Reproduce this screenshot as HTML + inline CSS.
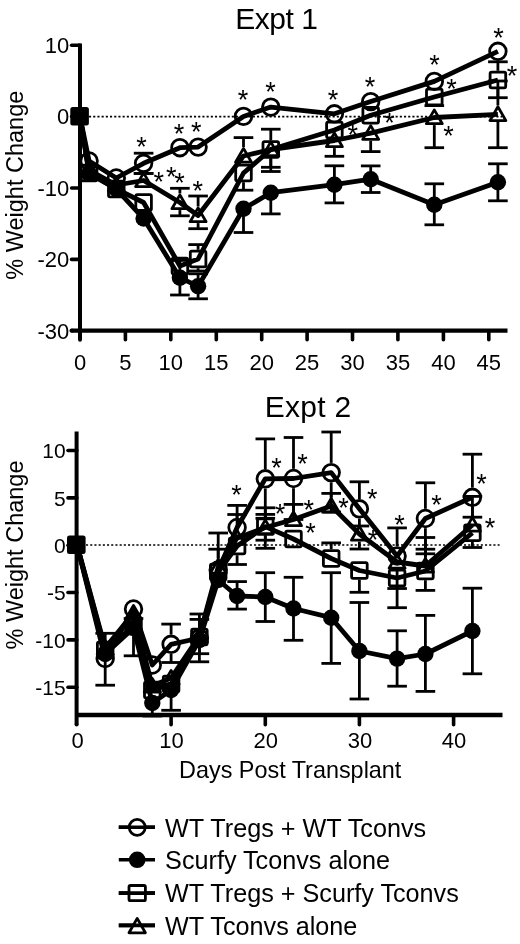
<!DOCTYPE html>
<html><head><meta charset="utf-8"><style>
html,body{margin:0;padding:0;background:#fff;}
body{width:520px;height:944px;overflow:hidden;}
svg{display:block;font-family:"Liberation Sans", sans-serif;will-change:transform;}
</style></head><body>
<svg width="520" height="944" viewBox="0 0 520 944">
<rect width="520" height="944" fill="#fff"/>
<g stroke="#000" fill="none" stroke-linecap="butt">
<line x1="80" y1="43.4" x2="80" y2="339.7" stroke-width="4" stroke-linecap="butt"/>
<line x1="80" y1="339.7" x2="80" y2="339.8" stroke-width="4" stroke-linecap="round"/>
<line x1="71.6" y1="330.7" x2="507.5" y2="330.7" stroke-width="4.3"/>
<line x1="71.6" y1="330.7" x2="71.7" y2="330.7" stroke-width="4.3" stroke-linecap="round"/>
<line x1="71.6" y1="45.2" x2="80" y2="45.2" stroke-width="3.6" stroke-linecap="round"/>
<line x1="71.6" y1="116.6" x2="80" y2="116.6" stroke-width="3.6" stroke-linecap="round"/>
<line x1="71.6" y1="188.0" x2="80" y2="188.0" stroke-width="3.6" stroke-linecap="round"/>
<line x1="71.6" y1="259.4" x2="80" y2="259.4" stroke-width="3.6" stroke-linecap="round"/>
<line x1="125.4" y1="331" x2="125.4" y2="339.7" stroke-width="3.6" stroke-linecap="round"/>
<line x1="170.8" y1="331" x2="170.8" y2="339.7" stroke-width="3.6" stroke-linecap="round"/>
<line x1="216.3" y1="331" x2="216.3" y2="339.7" stroke-width="3.6" stroke-linecap="round"/>
<line x1="261.7" y1="331" x2="261.7" y2="339.7" stroke-width="3.6" stroke-linecap="round"/>
<line x1="307.1" y1="331" x2="307.1" y2="339.7" stroke-width="3.6" stroke-linecap="round"/>
<line x1="352.5" y1="331" x2="352.5" y2="339.7" stroke-width="3.6" stroke-linecap="round"/>
<line x1="397.9" y1="331" x2="397.9" y2="339.7" stroke-width="3.6" stroke-linecap="round"/>
<line x1="443.4" y1="331" x2="443.4" y2="339.7" stroke-width="3.6" stroke-linecap="round"/>
<line x1="488.8" y1="331" x2="488.8" y2="339.7" stroke-width="3.6" stroke-linecap="round"/>
<line x1="89" y1="116.6" x2="502" y2="116.6" stroke-width="1.7" stroke-dasharray="2.1 2.1"/>
<line x1="76.6" y1="431.5" x2="76.6" y2="724.5" stroke-width="4"/>
<line x1="76.6" y1="724.5" x2="76.6" y2="724.6" stroke-width="4" stroke-linecap="round"/>
<line x1="76.6" y1="715" x2="502.5" y2="715" stroke-width="4.3"/>
<line x1="68" y1="450.5" x2="76.8" y2="450.5" stroke-width="3.6" stroke-linecap="round"/>
<line x1="68" y1="497.9" x2="76.8" y2="497.9" stroke-width="3.6" stroke-linecap="round"/>
<line x1="68" y1="545.2" x2="76.8" y2="545.2" stroke-width="3.6" stroke-linecap="round"/>
<line x1="68" y1="592.5" x2="76.8" y2="592.5" stroke-width="3.6" stroke-linecap="round"/>
<line x1="68" y1="639.9" x2="76.8" y2="639.9" stroke-width="3.6" stroke-linecap="round"/>
<line x1="68" y1="687.2" x2="76.8" y2="687.2" stroke-width="3.6" stroke-linecap="round"/>
<line x1="171.1" y1="715" x2="171.1" y2="724.7" stroke-width="3.6" stroke-linecap="round"/>
<line x1="265.3" y1="715" x2="265.3" y2="724.7" stroke-width="3.6" stroke-linecap="round"/>
<line x1="359.4" y1="715" x2="359.4" y2="724.7" stroke-width="3.6" stroke-linecap="round"/>
<line x1="453.6" y1="715" x2="453.6" y2="724.7" stroke-width="3.6" stroke-linecap="round"/>
<line x1="86" y1="545" x2="499.6" y2="545" stroke-width="1.7" stroke-dasharray="2.1 2.1"/>
</g>
<g stroke="#000" fill="none" stroke-linecap="butt">
<line x1="143.6" y1="153.6" x2="143.6" y2="153.2" stroke-width="2.8" />
<line x1="133.8" y1="153.2" x2="153.4" y2="153.2" stroke-width="2.8" />
<line x1="143.6" y1="173.0" x2="143.6" y2="173.4" stroke-width="2.8" />
<line x1="133.8" y1="173.4" x2="153.4" y2="173.4" stroke-width="2.8" />
<line x1="179.9" y1="277.7" x2="179.9" y2="260.4" stroke-width="2.8" />
<line x1="170.1" y1="260.4" x2="189.7" y2="260.4" stroke-width="2.8" />
<line x1="179.9" y1="277.7" x2="179.9" y2="295.0" stroke-width="2.8" />
<line x1="170.1" y1="295.0" x2="189.7" y2="295.0" stroke-width="2.8" />
<line x1="198.1" y1="286.3" x2="198.1" y2="273.8" stroke-width="2.8" />
<line x1="188.3" y1="273.8" x2="207.9" y2="273.8" stroke-width="2.8" />
<line x1="198.1" y1="286.3" x2="198.1" y2="298.8" stroke-width="2.8" />
<line x1="188.3" y1="298.8" x2="207.9" y2="298.8" stroke-width="2.8" />
<line x1="243.5" y1="208.8" x2="243.5" y2="232.5" stroke-width="2.8" />
<line x1="233.7" y1="232.5" x2="253.3" y2="232.5" stroke-width="2.8" />
<line x1="270.8" y1="192.7" x2="270.8" y2="213.9" stroke-width="2.8" />
<line x1="261.0" y1="213.9" x2="280.6" y2="213.9" stroke-width="2.8" />
<line x1="334.4" y1="184.7" x2="334.4" y2="165.8" stroke-width="2.8" />
<line x1="324.6" y1="165.8" x2="344.2" y2="165.8" stroke-width="2.8" />
<line x1="334.4" y1="184.7" x2="334.4" y2="202.9" stroke-width="2.8" />
<line x1="324.6" y1="202.9" x2="344.2" y2="202.9" stroke-width="2.8" />
<line x1="370.7" y1="179.2" x2="370.7" y2="165.9" stroke-width="2.8" />
<line x1="360.9" y1="165.9" x2="380.5" y2="165.9" stroke-width="2.8" />
<line x1="370.7" y1="179.2" x2="370.7" y2="192.5" stroke-width="2.8" />
<line x1="360.9" y1="192.5" x2="380.5" y2="192.5" stroke-width="2.8" />
<line x1="434.3" y1="204.8" x2="434.3" y2="183.8" stroke-width="2.8" />
<line x1="424.5" y1="183.8" x2="444.1" y2="183.8" stroke-width="2.8" />
<line x1="434.3" y1="204.8" x2="434.3" y2="224.8" stroke-width="2.8" />
<line x1="424.5" y1="224.8" x2="444.1" y2="224.8" stroke-width="2.8" />
<line x1="497.9" y1="182.3" x2="497.9" y2="163.8" stroke-width="2.8" />
<line x1="488.1" y1="163.8" x2="507.7" y2="163.8" stroke-width="2.8" />
<line x1="497.9" y1="182.3" x2="497.9" y2="200.8" stroke-width="2.8" />
<line x1="488.1" y1="200.8" x2="507.7" y2="200.8" stroke-width="2.8" />
<line x1="198.1" y1="249.8" x2="198.1" y2="244.6" stroke-width="2.8" />
<line x1="188.3" y1="244.6" x2="207.9" y2="244.6" stroke-width="2.8" />
<line x1="198.1" y1="268.2" x2="198.1" y2="271.0" stroke-width="2.8" />
<line x1="188.3" y1="271.0" x2="207.9" y2="271.0" stroke-width="2.8" />
<line x1="243.5" y1="182.2" x2="243.5" y2="190.2" stroke-width="2.8" />
<line x1="233.7" y1="190.2" x2="253.3" y2="190.2" stroke-width="2.8" />
<line x1="270.8" y1="140.3" x2="270.8" y2="129.2" stroke-width="2.8" />
<line x1="261.0" y1="129.2" x2="280.6" y2="129.2" stroke-width="2.8" />
<line x1="270.8" y1="158.7" x2="270.8" y2="171.5" stroke-width="2.8" />
<line x1="261.0" y1="171.5" x2="280.6" y2="171.5" stroke-width="2.8" />
<line x1="424.5" y1="105.6" x2="444.1" y2="105.6" stroke-width="2.8" />
<line x1="497.9" y1="70.8" x2="497.9" y2="61.8" stroke-width="2.8" />
<line x1="488.1" y1="61.8" x2="507.7" y2="61.8" stroke-width="2.8" />
<line x1="497.9" y1="89.2" x2="497.9" y2="97.7" stroke-width="2.8" />
<line x1="488.1" y1="97.7" x2="507.7" y2="97.7" stroke-width="2.8" />
<line x1="133.8" y1="173.4" x2="153.4" y2="173.4" stroke-width="2.8" />
<line x1="179.9" y1="193.5" x2="179.9" y2="188.3" stroke-width="2.8" />
<line x1="170.1" y1="188.3" x2="189.7" y2="188.3" stroke-width="2.8" />
<line x1="179.9" y1="210.1" x2="179.9" y2="215.8" stroke-width="2.8" />
<line x1="170.1" y1="215.8" x2="189.7" y2="215.8" stroke-width="2.8" />
<line x1="198.1" y1="206.5" x2="198.1" y2="196.0" stroke-width="2.8" />
<line x1="188.3" y1="196.0" x2="207.9" y2="196.0" stroke-width="2.8" />
<line x1="198.1" y1="223.1" x2="198.1" y2="228.7" stroke-width="2.8" />
<line x1="188.3" y1="228.7" x2="207.9" y2="228.7" stroke-width="2.8" />
<line x1="243.5" y1="147.0" x2="243.5" y2="137.6" stroke-width="2.8" />
<line x1="233.7" y1="137.6" x2="253.3" y2="137.6" stroke-width="2.8" />
<line x1="270.8" y1="157.1" x2="270.8" y2="167.3" stroke-width="2.8" />
<line x1="261.0" y1="167.3" x2="280.6" y2="167.3" stroke-width="2.8" />
<line x1="334.4" y1="148.1" x2="334.4" y2="156.3" stroke-width="2.8" />
<line x1="324.6" y1="156.3" x2="344.2" y2="156.3" stroke-width="2.8" />
<line x1="370.7" y1="140.8" x2="370.7" y2="151.6" stroke-width="2.8" />
<line x1="360.9" y1="151.6" x2="380.5" y2="151.6" stroke-width="2.8" />
<line x1="434.3" y1="125.1" x2="434.3" y2="147.7" stroke-width="2.8" />
<line x1="424.5" y1="147.7" x2="444.1" y2="147.7" stroke-width="2.8" />
<line x1="497.9" y1="105.4" x2="497.9" y2="81.0" stroke-width="2.8" />
<line x1="488.1" y1="81.0" x2="507.7" y2="81.0" stroke-width="2.8" />
<line x1="497.9" y1="122.0" x2="497.9" y2="147.7" stroke-width="2.8" />
<line x1="488.1" y1="147.7" x2="507.7" y2="147.7" stroke-width="2.8" />
<circle cx="89.1" cy="161.0" r="8.3" fill="none" stroke-width="2.8"/>
<circle cx="116.3" cy="178.0" r="8.3" fill="none" stroke-width="2.8"/>
<circle cx="143.6" cy="163.3" r="8.3" fill="none" stroke-width="2.8"/>
<circle cx="179.9" cy="147.7" r="8.3" fill="none" stroke-width="2.8"/>
<circle cx="198.1" cy="147.1" r="8.3" fill="none" stroke-width="2.8"/>
<circle cx="243.5" cy="116.4" r="8.3" fill="none" stroke-width="2.8"/>
<circle cx="270.8" cy="107.1" r="8.3" fill="none" stroke-width="2.8"/>
<circle cx="334.4" cy="113.8" r="8.3" fill="none" stroke-width="2.8"/>
<circle cx="370.7" cy="101.6" r="8.3" fill="none" stroke-width="2.8"/>
<circle cx="434.3" cy="81.4" r="8.3" fill="none" stroke-width="2.8"/>
<circle cx="497.9" cy="51.3" r="8.3" fill="none" stroke-width="2.8"/>
<circle cx="89.1" cy="173.7" r="8.2" fill="#000" stroke="none"/>
<circle cx="116.3" cy="189.0" r="8.2" fill="#000" stroke="none"/>
<circle cx="143.6" cy="218.5" r="8.2" fill="#000" stroke="none"/>
<circle cx="179.9" cy="277.7" r="8.2" fill="#000" stroke="none"/>
<circle cx="198.1" cy="286.3" r="8.2" fill="#000" stroke="none"/>
<circle cx="243.5" cy="208.8" r="8.2" fill="#000" stroke="none"/>
<circle cx="270.8" cy="192.7" r="8.2" fill="#000" stroke="none"/>
<circle cx="334.4" cy="184.7" r="8.2" fill="#000" stroke="none"/>
<circle cx="370.7" cy="179.2" r="8.2" fill="#000" stroke="none"/>
<circle cx="434.3" cy="204.8" r="8.2" fill="#000" stroke="none"/>
<circle cx="497.9" cy="182.3" r="8.2" fill="#000" stroke="none"/>
<rect x="81.3" y="165.2" width="15.6" height="15.6" rx="1.5" fill="none" stroke-width="2.8"/>
<rect x="108.5" y="181.2" width="15.6" height="15.6" rx="1.5" fill="none" stroke-width="2.8"/>
<rect x="135.8" y="194.7" width="15.6" height="15.6" rx="1.5" fill="none" stroke-width="2.8"/>
<rect x="172.1" y="258.2" width="15.6" height="15.6" rx="1.5" fill="none" stroke-width="2.8"/>
<rect x="190.3" y="251.2" width="15.6" height="15.6" rx="1.5" fill="none" stroke-width="2.8"/>
<rect x="235.7" y="165.2" width="15.6" height="15.6" rx="1.5" fill="none" stroke-width="2.8"/>
<rect x="263.0" y="141.7" width="15.6" height="15.6" rx="1.5" fill="none" stroke-width="2.8"/>
<rect x="326.6" y="122.2" width="15.6" height="15.6" rx="1.5" fill="none" stroke-width="2.8"/>
<rect x="362.9" y="107.5" width="15.6" height="15.6" rx="1.5" fill="none" stroke-width="2.8"/>
<rect x="426.5" y="89.2" width="15.6" height="15.6" rx="1.5" fill="none" stroke-width="2.8"/>
<rect x="490.1" y="72.2" width="15.6" height="15.6" rx="1.5" fill="none" stroke-width="2.8"/>
<path d="M89.1 162.4L97.1 176.2L81.1 176.2Z" fill="none" stroke-width="2.8" stroke-linejoin="round"/>
<path d="M116.3 177.4L124.3 191.2L108.3 191.2Z" fill="none" stroke-width="2.8" stroke-linejoin="round"/>
<path d="M143.6 172.9L151.6 186.7L135.6 186.7Z" fill="none" stroke-width="2.8" stroke-linejoin="round"/>
<path d="M179.9 194.9L187.9 208.7L171.9 208.7Z" fill="none" stroke-width="2.8" stroke-linejoin="round"/>
<path d="M198.1 207.9L206.1 221.7L190.1 221.7Z" fill="none" stroke-width="2.8" stroke-linejoin="round"/>
<path d="M243.5 148.4L251.5 162.2L235.5 162.2Z" fill="none" stroke-width="2.8" stroke-linejoin="round"/>
<path d="M270.8 141.9L278.8 155.7L262.8 155.7Z" fill="none" stroke-width="2.8" stroke-linejoin="round"/>
<path d="M334.4 132.9L342.4 146.7L326.4 146.7Z" fill="none" stroke-width="2.8" stroke-linejoin="round"/>
<path d="M370.7 125.6L378.7 139.4L362.7 139.4Z" fill="none" stroke-width="2.8" stroke-linejoin="round"/>
<path d="M434.3 109.9L442.3 123.7L426.3 123.7Z" fill="none" stroke-width="2.8" stroke-linejoin="round"/>
<path d="M497.9 106.8L505.9 120.6L489.9 120.6Z" fill="none" stroke-width="2.8" stroke-linejoin="round"/>
<path d="M80.0 116.6 L89.1 161.0 L116.3 178.0 L143.6 163.3 L179.9 147.7 L198.1 147.1 L243.5 116.4 L270.8 107.1 L334.4 113.8 L370.7 101.6 L434.3 81.4 L497.9 51.3" fill="none" stroke-width="4.8" stroke-linejoin="round"/>
<path d="M80.0 116.6 L89.1 173.7 L116.3 189.0 L143.6 218.5 L179.9 277.7 L198.1 286.3 L243.5 208.8 L270.8 192.7 L334.4 184.7 L370.7 179.2 L434.3 204.8 L497.9 182.3" fill="none" stroke-width="4.8" stroke-linejoin="round"/>
<path d="M80.0 116.6 L89.1 173.0 L116.3 189.0 L143.6 202.5 L179.9 266.0 L198.1 259.0 L243.5 173.0 L270.8 149.5 L334.4 130.0 L370.7 115.3 L434.3 97.0 L497.9 80.0" fill="none" stroke-width="4.8" stroke-linejoin="round"/>
<path d="M80.0 116.6 L89.1 170.0 L116.3 185.0 L143.6 180.5 L179.9 202.5 L198.1 215.5 L243.5 156.0 L270.8 149.5 L334.4 140.5 L370.7 133.2 L434.3 117.5 L497.9 114.4" fill="none" stroke-width="4.8" stroke-linejoin="round"/>
<rect x="70.3" y="107" width="18.6" height="18.6" rx="2.5" fill="#000" stroke="none"/>
<line x1="123.7" y1="618.5" x2="143.3" y2="618.5" stroke-width="2.8" />
<line x1="171.1" y1="634.6" x2="171.1" y2="624.1" stroke-width="2.8" />
<line x1="161.3" y1="624.1" x2="180.9" y2="624.1" stroke-width="2.8" />
<line x1="171.1" y1="654.0" x2="171.1" y2="662.5" stroke-width="2.8" />
<line x1="161.3" y1="662.5" x2="180.9" y2="662.5" stroke-width="2.8" />
<line x1="237.1" y1="517.8" x2="237.1" y2="505.4" stroke-width="2.8" />
<line x1="227.3" y1="505.4" x2="246.9" y2="505.4" stroke-width="2.8" />
<line x1="265.3" y1="469.1" x2="265.3" y2="438.9" stroke-width="2.8" />
<line x1="255.5" y1="438.9" x2="275.1" y2="438.9" stroke-width="2.8" />
<line x1="265.3" y1="488.5" x2="265.3" y2="518.3" stroke-width="2.8" />
<line x1="255.5" y1="518.3" x2="275.1" y2="518.3" stroke-width="2.8" />
<line x1="293.5" y1="468.8" x2="293.5" y2="437.5" stroke-width="2.8" />
<line x1="283.7" y1="437.5" x2="303.3" y2="437.5" stroke-width="2.8" />
<line x1="293.5" y1="488.2" x2="293.5" y2="519.5" stroke-width="2.8" />
<line x1="283.7" y1="519.5" x2="303.3" y2="519.5" stroke-width="2.8" />
<line x1="331.2" y1="462.9" x2="331.2" y2="432.0" stroke-width="2.8" />
<line x1="321.4" y1="432.0" x2="341.0" y2="432.0" stroke-width="2.8" />
<line x1="331.2" y1="482.3" x2="331.2" y2="512.0" stroke-width="2.8" />
<line x1="321.4" y1="512.0" x2="341.0" y2="512.0" stroke-width="2.8" />
<line x1="359.4" y1="499.1" x2="359.4" y2="481.8" stroke-width="2.8" />
<line x1="349.6" y1="481.8" x2="369.2" y2="481.8" stroke-width="2.8" />
<line x1="359.4" y1="518.5" x2="359.4" y2="526.0" stroke-width="2.8" />
<line x1="349.6" y1="526.0" x2="369.2" y2="526.0" stroke-width="2.8" />
<line x1="397.1" y1="546.3" x2="397.1" y2="527.9" stroke-width="2.8" />
<line x1="387.3" y1="527.9" x2="406.9" y2="527.9" stroke-width="2.8" />
<line x1="425.4" y1="508.8" x2="425.4" y2="482.8" stroke-width="2.8" />
<line x1="415.6" y1="482.8" x2="435.2" y2="482.8" stroke-width="2.8" />
<line x1="425.4" y1="528.2" x2="425.4" y2="553.8" stroke-width="2.8" />
<line x1="415.6" y1="553.8" x2="435.2" y2="553.8" stroke-width="2.8" />
<line x1="472.4" y1="487.6" x2="472.4" y2="454.2" stroke-width="2.8" />
<line x1="462.6" y1="454.2" x2="482.2" y2="454.2" stroke-width="2.8" />
<line x1="472.4" y1="507.0" x2="472.4" y2="517.2" stroke-width="2.8" />
<line x1="462.6" y1="517.2" x2="482.2" y2="517.2" stroke-width="2.8" />
<line x1="105.2" y1="654.0" x2="105.2" y2="633.3" stroke-width="2.8" />
<line x1="95.4" y1="633.3" x2="115.0" y2="633.3" stroke-width="2.8" />
<line x1="105.2" y1="654.0" x2="105.2" y2="685.2" stroke-width="2.8" />
<line x1="95.4" y1="685.2" x2="115.0" y2="685.2" stroke-width="2.8" />
<line x1="152.3" y1="703.0" x2="152.3" y2="716.0" stroke-width="2.8" />
<line x1="142.5" y1="716.0" x2="162.1" y2="716.0" stroke-width="2.8" />
<line x1="171.1" y1="690.0" x2="171.1" y2="710.3" stroke-width="2.8" />
<line x1="161.3" y1="710.3" x2="180.9" y2="710.3" stroke-width="2.8" />
<line x1="199.4" y1="640.0" x2="199.4" y2="661.8" stroke-width="2.8" />
<line x1="189.6" y1="661.8" x2="209.2" y2="661.8" stroke-width="2.8" />
<line x1="237.1" y1="596.0" x2="237.1" y2="581.6" stroke-width="2.8" />
<line x1="227.3" y1="581.6" x2="246.9" y2="581.6" stroke-width="2.8" />
<line x1="237.1" y1="596.0" x2="237.1" y2="609.1" stroke-width="2.8" />
<line x1="227.3" y1="609.1" x2="246.9" y2="609.1" stroke-width="2.8" />
<line x1="265.3" y1="597.0" x2="265.3" y2="572.7" stroke-width="2.8" />
<line x1="255.5" y1="572.7" x2="275.1" y2="572.7" stroke-width="2.8" />
<line x1="265.3" y1="597.0" x2="265.3" y2="621.5" stroke-width="2.8" />
<line x1="255.5" y1="621.5" x2="275.1" y2="621.5" stroke-width="2.8" />
<line x1="293.5" y1="608.5" x2="293.5" y2="577.3" stroke-width="2.8" />
<line x1="283.7" y1="577.3" x2="303.3" y2="577.3" stroke-width="2.8" />
<line x1="293.5" y1="608.5" x2="293.5" y2="640.3" stroke-width="2.8" />
<line x1="283.7" y1="640.3" x2="303.3" y2="640.3" stroke-width="2.8" />
<line x1="331.2" y1="617.7" x2="331.2" y2="572.7" stroke-width="2.8" />
<line x1="321.4" y1="572.7" x2="341.0" y2="572.7" stroke-width="2.8" />
<line x1="331.2" y1="617.7" x2="331.2" y2="663.4" stroke-width="2.8" />
<line x1="321.4" y1="663.4" x2="341.0" y2="663.4" stroke-width="2.8" />
<line x1="359.4" y1="651.0" x2="359.4" y2="602.5" stroke-width="2.8" />
<line x1="349.6" y1="602.5" x2="369.2" y2="602.5" stroke-width="2.8" />
<line x1="359.4" y1="651.0" x2="359.4" y2="699.0" stroke-width="2.8" />
<line x1="349.6" y1="699.0" x2="369.2" y2="699.0" stroke-width="2.8" />
<line x1="397.1" y1="658.6" x2="397.1" y2="630.8" stroke-width="2.8" />
<line x1="387.3" y1="630.8" x2="406.9" y2="630.8" stroke-width="2.8" />
<line x1="397.1" y1="658.6" x2="397.1" y2="686.2" stroke-width="2.8" />
<line x1="387.3" y1="686.2" x2="406.9" y2="686.2" stroke-width="2.8" />
<line x1="425.4" y1="654.0" x2="425.4" y2="615.4" stroke-width="2.8" />
<line x1="415.6" y1="615.4" x2="435.2" y2="615.4" stroke-width="2.8" />
<line x1="425.4" y1="654.0" x2="425.4" y2="691.4" stroke-width="2.8" />
<line x1="415.6" y1="691.4" x2="435.2" y2="691.4" stroke-width="2.8" />
<line x1="472.4" y1="631.0" x2="472.4" y2="588.2" stroke-width="2.8" />
<line x1="462.6" y1="588.2" x2="482.2" y2="588.2" stroke-width="2.8" />
<line x1="472.4" y1="631.0" x2="472.4" y2="673.8" stroke-width="2.8" />
<line x1="462.6" y1="673.8" x2="482.2" y2="673.8" stroke-width="2.8" />
<line x1="133.5" y1="635.2" x2="133.5" y2="655.8" stroke-width="2.8" />
<line x1="123.7" y1="655.8" x2="143.3" y2="655.8" stroke-width="2.8" />
<line x1="199.4" y1="627.8" x2="199.4" y2="619.4" stroke-width="2.8" />
<line x1="189.6" y1="619.4" x2="209.2" y2="619.4" stroke-width="2.8" />
<line x1="199.4" y1="646.2" x2="199.4" y2="653.7" stroke-width="2.8" />
<line x1="189.6" y1="653.7" x2="209.2" y2="653.7" stroke-width="2.8" />
<line x1="218.2" y1="562.8" x2="218.2" y2="533.0" stroke-width="2.8" />
<line x1="208.4" y1="533.0" x2="228.0" y2="533.0" stroke-width="2.8" />
<line x1="237.1" y1="555.2" x2="237.1" y2="564.5" stroke-width="2.8" />
<line x1="227.3" y1="564.5" x2="246.9" y2="564.5" stroke-width="2.8" />
<line x1="265.3" y1="517.4" x2="265.3" y2="507.8" stroke-width="2.8" />
<line x1="255.5" y1="507.8" x2="275.1" y2="507.8" stroke-width="2.8" />
<line x1="265.3" y1="535.8" x2="265.3" y2="548.3" stroke-width="2.8" />
<line x1="255.5" y1="548.3" x2="275.1" y2="548.3" stroke-width="2.8" />
<line x1="331.2" y1="549.3" x2="331.2" y2="542.9" stroke-width="2.8" />
<line x1="321.4" y1="542.9" x2="341.0" y2="542.9" stroke-width="2.8" />
<line x1="359.4" y1="579.7" x2="359.4" y2="592.3" stroke-width="2.8" />
<line x1="349.6" y1="592.3" x2="369.2" y2="592.3" stroke-width="2.8" />
<line x1="397.1" y1="587.2" x2="397.1" y2="607.7" stroke-width="2.8" />
<line x1="387.3" y1="607.7" x2="406.9" y2="607.7" stroke-width="2.8" />
<line x1="425.4" y1="561.8" x2="425.4" y2="549.2" stroke-width="2.8" />
<line x1="415.6" y1="549.2" x2="435.2" y2="549.2" stroke-width="2.8" />
<line x1="425.4" y1="580.2" x2="425.4" y2="590.4" stroke-width="2.8" />
<line x1="415.6" y1="590.4" x2="435.2" y2="590.4" stroke-width="2.8" />
<line x1="472.4" y1="542.0" x2="472.4" y2="547.5" stroke-width="2.8" />
<line x1="462.6" y1="547.5" x2="482.2" y2="547.5" stroke-width="2.8" />
<line x1="199.4" y1="627.0" x2="199.4" y2="614.0" stroke-width="2.8" />
<line x1="189.6" y1="614.0" x2="209.2" y2="614.0" stroke-width="2.8" />
<line x1="218.2" y1="558.0" x2="218.2" y2="549.2" stroke-width="2.8" />
<line x1="208.4" y1="549.2" x2="228.0" y2="549.2" stroke-width="2.8" />
<line x1="237.1" y1="529.0" x2="237.1" y2="514.5" stroke-width="2.8" />
<line x1="227.3" y1="514.5" x2="246.9" y2="514.5" stroke-width="2.8" />
<line x1="265.3" y1="518.5" x2="265.3" y2="514.4" stroke-width="2.8" />
<line x1="255.5" y1="514.4" x2="275.1" y2="514.4" stroke-width="2.8" />
<line x1="265.3" y1="535.1" x2="265.3" y2="540.2" stroke-width="2.8" />
<line x1="255.5" y1="540.2" x2="275.1" y2="540.2" stroke-width="2.8" />
<line x1="293.5" y1="510.5" x2="293.5" y2="504.4" stroke-width="2.8" />
<line x1="283.7" y1="504.4" x2="303.3" y2="504.4" stroke-width="2.8" />
<line x1="331.2" y1="497.0" x2="331.2" y2="493.4" stroke-width="2.8" />
<line x1="321.4" y1="493.4" x2="341.0" y2="493.4" stroke-width="2.8" />
<line x1="359.4" y1="541.6" x2="359.4" y2="549.0" stroke-width="2.8" />
<line x1="349.6" y1="549.0" x2="369.2" y2="549.0" stroke-width="2.8" />
<line x1="397.1" y1="569.6" x2="397.1" y2="588.5" stroke-width="2.8" />
<line x1="387.3" y1="588.5" x2="406.9" y2="588.5" stroke-width="2.8" />
<line x1="425.4" y1="557.0" x2="425.4" y2="537.5" stroke-width="2.8" />
<line x1="415.6" y1="537.5" x2="435.2" y2="537.5" stroke-width="2.8" />
<line x1="472.4" y1="516.0" x2="472.4" y2="496.4" stroke-width="2.8" />
<line x1="462.6" y1="496.4" x2="482.2" y2="496.4" stroke-width="2.8" />
<circle cx="105.2" cy="658.5" r="8.3" fill="none" stroke-width="2.8"/>
<circle cx="133.5" cy="609.0" r="8.3" fill="none" stroke-width="2.8"/>
<circle cx="152.3" cy="665.0" r="8.3" fill="none" stroke-width="2.8"/>
<circle cx="171.1" cy="644.3" r="8.3" fill="none" stroke-width="2.8"/>
<circle cx="199.4" cy="638.0" r="8.3" fill="none" stroke-width="2.8"/>
<circle cx="218.2" cy="570.0" r="8.3" fill="none" stroke-width="2.8"/>
<circle cx="237.1" cy="527.5" r="8.3" fill="none" stroke-width="2.8"/>
<circle cx="265.3" cy="478.8" r="8.3" fill="none" stroke-width="2.8"/>
<circle cx="293.5" cy="478.5" r="8.3" fill="none" stroke-width="2.8"/>
<circle cx="331.2" cy="472.6" r="8.3" fill="none" stroke-width="2.8"/>
<circle cx="359.4" cy="508.8" r="8.3" fill="none" stroke-width="2.8"/>
<circle cx="397.1" cy="556.0" r="8.3" fill="none" stroke-width="2.8"/>
<circle cx="425.4" cy="518.5" r="8.3" fill="none" stroke-width="2.8"/>
<circle cx="472.4" cy="497.3" r="8.3" fill="none" stroke-width="2.8"/>
<circle cx="105.2" cy="654.0" r="8.2" fill="#000" stroke="none"/>
<circle cx="133.5" cy="628.0" r="8.2" fill="#000" stroke="none"/>
<circle cx="152.3" cy="703.0" r="8.2" fill="#000" stroke="none"/>
<circle cx="171.1" cy="690.0" r="8.2" fill="#000" stroke="none"/>
<circle cx="199.4" cy="640.0" r="8.2" fill="#000" stroke="none"/>
<circle cx="218.2" cy="580.0" r="8.2" fill="#000" stroke="none"/>
<circle cx="237.1" cy="596.0" r="8.2" fill="#000" stroke="none"/>
<circle cx="265.3" cy="597.0" r="8.2" fill="#000" stroke="none"/>
<circle cx="293.5" cy="608.5" r="8.2" fill="#000" stroke="none"/>
<circle cx="331.2" cy="617.7" r="8.2" fill="#000" stroke="none"/>
<circle cx="359.4" cy="651.0" r="8.2" fill="#000" stroke="none"/>
<circle cx="397.1" cy="658.6" r="8.2" fill="#000" stroke="none"/>
<circle cx="425.4" cy="654.0" r="8.2" fill="#000" stroke="none"/>
<circle cx="472.4" cy="631.0" r="8.2" fill="#000" stroke="none"/>
<rect x="97.4" y="642.2" width="15.6" height="15.6" rx="1.5" fill="none" stroke-width="2.8"/>
<rect x="125.7" y="618.2" width="15.6" height="15.6" rx="1.5" fill="none" stroke-width="2.8"/>
<rect x="144.5" y="682.2" width="15.6" height="15.6" rx="1.5" fill="none" stroke-width="2.8"/>
<rect x="163.3" y="676.2" width="15.6" height="15.6" rx="1.5" fill="none" stroke-width="2.8"/>
<rect x="191.6" y="629.2" width="15.6" height="15.6" rx="1.5" fill="none" stroke-width="2.8"/>
<rect x="210.4" y="564.2" width="15.6" height="15.6" rx="1.5" fill="none" stroke-width="2.8"/>
<rect x="229.3" y="538.2" width="15.6" height="15.6" rx="1.5" fill="none" stroke-width="2.8"/>
<rect x="257.5" y="518.8" width="15.6" height="15.6" rx="1.5" fill="none" stroke-width="2.8"/>
<rect x="285.7" y="531.2" width="15.6" height="15.6" rx="1.5" fill="none" stroke-width="2.8"/>
<rect x="323.4" y="550.7" width="15.6" height="15.6" rx="1.5" fill="none" stroke-width="2.8"/>
<rect x="351.6" y="562.7" width="15.6" height="15.6" rx="1.5" fill="none" stroke-width="2.8"/>
<rect x="389.3" y="570.2" width="15.6" height="15.6" rx="1.5" fill="none" stroke-width="2.8"/>
<rect x="417.6" y="563.2" width="15.6" height="15.6" rx="1.5" fill="none" stroke-width="2.8"/>
<rect x="464.6" y="525.0" width="15.6" height="15.6" rx="1.5" fill="none" stroke-width="2.8"/>
<path d="M105.2 640.4L113.2 654.2L97.2 654.2Z" fill="none" stroke-width="2.8" stroke-linejoin="round"/>
<path d="M133.5 605.4L141.5 619.2L125.5 619.2Z" fill="none" stroke-width="2.8" stroke-linejoin="round"/>
<path d="M152.3 678.4L160.3 692.2L144.3 692.2Z" fill="none" stroke-width="2.8" stroke-linejoin="round"/>
<path d="M171.1 670.4L179.1 684.2L163.1 684.2Z" fill="none" stroke-width="2.8" stroke-linejoin="round"/>
<path d="M199.4 628.4L207.4 642.2L191.4 642.2Z" fill="none" stroke-width="2.8" stroke-linejoin="round"/>
<path d="M218.2 559.4L226.2 573.2L210.2 573.2Z" fill="none" stroke-width="2.8" stroke-linejoin="round"/>
<path d="M237.1 530.4L245.1 544.2L229.1 544.2Z" fill="none" stroke-width="2.8" stroke-linejoin="round"/>
<path d="M265.3 519.9L273.3 533.7L257.3 533.7Z" fill="none" stroke-width="2.8" stroke-linejoin="round"/>
<path d="M293.5 511.9L301.5 525.7L285.5 525.7Z" fill="none" stroke-width="2.8" stroke-linejoin="round"/>
<path d="M331.2 498.4L339.2 512.2L323.2 512.2Z" fill="none" stroke-width="2.8" stroke-linejoin="round"/>
<path d="M359.4 526.4L367.4 540.2L351.4 540.2Z" fill="none" stroke-width="2.8" stroke-linejoin="round"/>
<path d="M397.1 554.4L405.1 568.2L389.1 568.2Z" fill="none" stroke-width="2.8" stroke-linejoin="round"/>
<path d="M425.4 558.4L433.4 572.2L417.4 572.2Z" fill="none" stroke-width="2.8" stroke-linejoin="round"/>
<path d="M472.4 517.4L480.4 531.2L464.4 531.2Z" fill="none" stroke-width="2.8" stroke-linejoin="round"/>
<path d="M77.0 545.0 L105.2 658.5 L133.5 609.0 L152.3 665.0 L171.1 644.3 L199.4 638.0 L218.2 570.0 L237.1 527.5 L265.3 478.8 L293.5 478.5 L331.2 472.6 L359.4 508.8 L397.1 556.0 L425.4 518.5 L472.4 497.3" fill="none" stroke-width="4.8" stroke-linejoin="round"/>
<path d="M77.0 545.0 L105.2 654.0 L133.5 628.0 L152.3 703.0 L171.1 690.0 L199.4 640.0 L218.2 580.0 L237.1 596.0 L265.3 597.0 L293.5 608.5 L331.2 617.7 L359.4 651.0 L397.1 658.6 L425.4 654.0 L472.4 631.0" fill="none" stroke-width="4.8" stroke-linejoin="round"/>
<path d="M77.0 545.0 L105.2 650.0 L133.5 626.0 L152.3 690.0 L171.1 684.0 L199.4 637.0 L218.2 572.0 L237.1 546.0 L265.3 526.6 L293.5 539.0 L331.2 558.5 L359.4 570.5 L397.1 578.0 L425.4 571.0 L472.4 532.8" fill="none" stroke-width="4.8" stroke-linejoin="round"/>
<path d="M77.0 545.0 L105.2 648.0 L133.5 613.0 L152.3 686.0 L171.1 678.0 L199.4 636.0 L218.2 567.0 L237.1 538.0 L265.3 527.5 L293.5 519.5 L331.2 506.0 L359.4 534.0 L397.1 562.0 L425.4 566.0 L472.4 525.0" fill="none" stroke-width="4.8" stroke-linejoin="round"/>
<rect x="67" y="535.5" width="18.6" height="18.6" rx="2.5" fill="#000" stroke="none"/>
</g>
<g fill="#000" stroke="none">
<text x="141.5" y="155.8" font-size="27" text-anchor="middle">*</text>
<text x="179.0" y="143.3" font-size="27" text-anchor="middle">*</text>
<text x="196.3" y="140.5" font-size="27" text-anchor="middle">*</text>
<text x="243.0" y="109.0" font-size="27" text-anchor="middle">*</text>
<text x="270.5" y="100.7" font-size="27" text-anchor="middle">*</text>
<text x="333.0" y="109.1" font-size="27" text-anchor="middle">*</text>
<text x="370.0" y="96.4" font-size="27" text-anchor="middle">*</text>
<text x="434.6" y="73.7" font-size="27" text-anchor="middle">*</text>
<text x="498.5" y="46.5" font-size="27" text-anchor="middle">*</text>
<text x="158.8" y="191.4" font-size="27" text-anchor="middle">*</text>
<text x="171.3" y="186.0" font-size="27" text-anchor="middle">*</text>
<text x="179.6" y="192.4" font-size="27" text-anchor="middle">*</text>
<text x="197.7" y="200.1" font-size="27" text-anchor="middle">*</text>
<text x="352.7" y="143.7" font-size="27" text-anchor="middle">*</text>
<text x="389.6" y="132.2" font-size="27" text-anchor="middle">*</text>
<text x="451.5" y="98.3" font-size="27" text-anchor="middle">*</text>
<text x="448.5" y="144.9" font-size="27" text-anchor="middle">*</text>
<text x="512.0" y="84.9" font-size="27" text-anchor="middle">*</text>
<text x="236.5" y="503.7" font-size="27" text-anchor="middle">*</text>
<text x="276.5" y="477.2" font-size="27" text-anchor="middle">*</text>
<text x="302.6" y="473.3" font-size="27" text-anchor="middle">*</text>
<text x="343.5" y="517.1" font-size="27" text-anchor="middle">*</text>
<text x="372.3" y="508.3" font-size="27" text-anchor="middle">*</text>
<text x="399.6" y="534.1" font-size="27" text-anchor="middle">*</text>
<text x="436.5" y="514.1" font-size="27" text-anchor="middle">*</text>
<text x="481.5" y="493.3" font-size="27" text-anchor="middle">*</text>
<text x="280.0" y="523.3" font-size="27" text-anchor="middle">*</text>
<text x="308.8" y="518.7" font-size="27" text-anchor="middle">*</text>
<text x="310.5" y="541.8" font-size="27" text-anchor="middle">*</text>
<text x="373.0" y="549.1" font-size="27" text-anchor="middle">*</text>
<text x="490.1" y="536.9" font-size="27" text-anchor="middle">*</text>
</g>
<g stroke="#000" fill="none">
<line x1="118.8" y1="827.3" x2="155" y2="827.3" stroke-width="3.6"/>
<line x1="118.8" y1="859.8" x2="155" y2="859.8" stroke-width="3.6"/>
<line x1="118.8" y1="893.1" x2="155" y2="893.1" stroke-width="3.6"/>
<line x1="118.8" y1="925.4" x2="155" y2="925.4" stroke-width="3.6"/>
<circle cx="137.2" cy="827.3" r="8" fill="#fff" stroke-width="2.8"/>
<line x1="118.8" y1="827.3" x2="155" y2="827.3" stroke-width="3.6"/>
<circle cx="137.2" cy="859.8" r="8.3" fill="#000" stroke="none"/>
<rect x="129.0" y="885.5" width="16.4" height="15.2" rx="1.5" fill="#fff" stroke-width="2.8"/>
<line x1="118.8" y1="893.1" x2="155" y2="893.1" stroke-width="3.6"/>
<path d="M137.2 918.4L145.39999999999998 932.8L129.0 932.8Z" fill="#fff" stroke-width="2.8" stroke-linejoin="round"/>
<line x1="118.8" y1="925.4" x2="155" y2="925.4" stroke-width="3.6"/>
</g>
<g fill="#000">
<text x="235.2" y="28.6" font-size="30" text-anchor="start" letter-spacing="-0.45">Expt 1</text>
<text x="264.7" y="417.2" font-size="30" text-anchor="start" letter-spacing="0.3">Expt 2</text>
<text x="69.3" y="53.0" font-size="22" text-anchor="end" >10</text>
<text x="69.3" y="124.4" font-size="22" text-anchor="end" >0</text>
<text x="69.3" y="195.8" font-size="22" text-anchor="end" >-10</text>
<text x="69.3" y="267.2" font-size="22" text-anchor="end" >-20</text>
<text x="69.3" y="338.6" font-size="22" text-anchor="end" >-30</text>
<text x="80.0" y="369.9" font-size="22" text-anchor="middle" >0</text>
<text x="125.4" y="369.9" font-size="22" text-anchor="middle" >5</text>
<text x="170.8" y="369.9" font-size="22" text-anchor="middle" >10</text>
<text x="216.3" y="369.9" font-size="22" text-anchor="middle" >15</text>
<text x="261.7" y="369.9" font-size="22" text-anchor="middle" >20</text>
<text x="307.1" y="369.9" font-size="22" text-anchor="middle" >25</text>
<text x="352.5" y="369.9" font-size="22" text-anchor="middle" >30</text>
<text x="397.9" y="369.9" font-size="22" text-anchor="middle" >35</text>
<text x="443.4" y="369.9" font-size="22" text-anchor="middle" >40</text>
<text x="488.8" y="369.9" font-size="22" text-anchor="middle" >45</text>
<text x="65.6" y="458.1" font-size="21" text-anchor="end" >10</text>
<text x="65.6" y="505.5" font-size="21" text-anchor="end" >5</text>
<text x="65.6" y="552.8" font-size="21" text-anchor="end" >0</text>
<text x="65.6" y="600.1" font-size="21" text-anchor="end" >-5</text>
<text x="65.6" y="647.5" font-size="21" text-anchor="end" >-10</text>
<text x="65.6" y="694.8" font-size="21" text-anchor="end" >-15</text>
<text x="77.5" y="748.2" font-size="22" text-anchor="middle" >0</text>
<text x="171.6" y="748.2" font-size="22" text-anchor="middle" >10</text>
<text x="265.8" y="748.2" font-size="22" text-anchor="middle" >20</text>
<text x="359.9" y="748.2" font-size="22" text-anchor="middle" >30</text>
<text x="454.1" y="748.2" font-size="22" text-anchor="middle" >40</text>
<text x="290.2" y="777.5" font-size="23.4" text-anchor="middle" >Days Post Transplant</text>
<text transform="translate(23.3 185.2) rotate(-90)" font-size="23.5" text-anchor="middle">% Weight Change</text>
<text transform="translate(23.3 555) rotate(-90)" font-size="23.5" text-anchor="middle">% Weight Change</text>
<text x="165.1" y="836.5" font-size="25.2" text-anchor="start" >WT Tregs + WT Tconvs</text>
<text x="165.1" y="869.0" font-size="25.2" text-anchor="start" >Scurfy Tconvs alone</text>
<text x="165.1" y="902.3" font-size="25.2" text-anchor="start" >WT Tregs + Scurfy Tconvs</text>
<text x="165.1" y="934.6" font-size="25.2" text-anchor="start" >WT Tconvs alone</text>
</g>
</svg>
</body></html>
